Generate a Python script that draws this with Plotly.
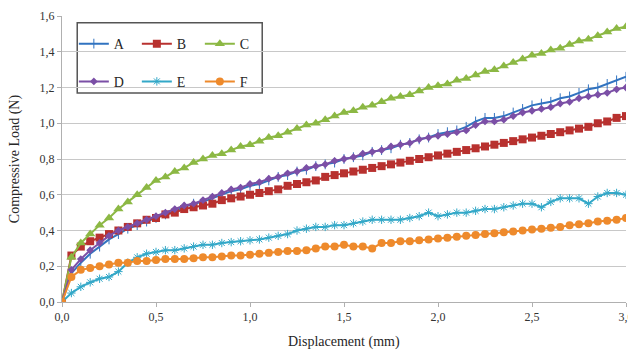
import plotly.graph_objects as go

x_mm = [round(i * 0.05, 2) for i in range(61)]

load_A = [0, 0.16, 0.22, 0.27, 0.31, 0.35, 0.38, 0.41, 0.43, 0.45, 0.47, 0.49, 0.51, 0.53, 0.55, 0.56,
          0.58, 0.60, 0.62, 0.63, 0.65, 0.66, 0.68, 0.70, 0.71, 0.73, 0.74, 0.76, 0.77, 0.78, 0.80,
          0.81, 0.82, 0.84, 0.85, 0.86, 0.88, 0.89, 0.91, 0.92, 0.94, 0.95, 0.96, 0.98, 1.01, 1.03,
          1.03, 1.04, 1.06, 1.08, 1.10, 1.11, 1.12, 1.14, 1.15, 1.17, 1.19, 1.20, 1.22, 1.24, 1.26]
load_B = [0, 0.26, 0.31, 0.34, 0.36, 0.38, 0.40, 0.42, 0.44, 0.46, 0.47, 0.49, 0.50, 0.52, 0.53, 0.54,
          0.55, 0.57, 0.58, 0.59, 0.60, 0.61, 0.62, 0.63, 0.65, 0.66, 0.67, 0.68, 0.70, 0.71, 0.72,
          0.73, 0.74, 0.75, 0.76, 0.77, 0.78, 0.79, 0.80, 0.81, 0.82, 0.83, 0.84, 0.85, 0.86, 0.87,
          0.88, 0.89, 0.90, 0.91, 0.92, 0.93, 0.94, 0.95, 0.96, 0.97, 0.98, 1.00, 1.01, 1.03, 1.04]
load_C = [0, 0.25, 0.33, 0.38, 0.43, 0.47, 0.52, 0.56, 0.60, 0.64, 0.68, 0.70, 0.73, 0.75, 0.78, 0.80,
          0.82, 0.83, 0.85, 0.87, 0.88, 0.90, 0.92, 0.93, 0.95, 0.97, 0.99, 1.00, 1.02, 1.04, 1.06,
          1.07, 1.09, 1.10, 1.12, 1.14, 1.15, 1.16, 1.18, 1.20, 1.21, 1.22, 1.24, 1.25, 1.27, 1.29,
          1.30, 1.32, 1.34, 1.36, 1.38, 1.39, 1.41, 1.42, 1.44, 1.46, 1.47, 1.49, 1.51, 1.53, 1.54]
load_D = [0, 0.18, 0.24, 0.29, 0.33, 0.37, 0.40, 0.42, 0.44, 0.46, 0.48, 0.50, 0.52, 0.54, 0.55, 0.57,
          0.59, 0.61, 0.63, 0.64, 0.66, 0.67, 0.69, 0.70, 0.72, 0.73, 0.75, 0.76, 0.77, 0.79, 0.80,
          0.81, 0.83, 0.84, 0.85, 0.87, 0.88, 0.89, 0.91, 0.92, 0.93, 0.94, 0.95, 0.96, 0.99, 1.01,
          1.01, 1.02, 1.04, 1.06, 1.07, 1.08, 1.09, 1.11, 1.12, 1.14, 1.15, 1.16, 1.17, 1.19, 1.20]
load_E = [0, 0.05, 0.085, 0.11, 0.13, 0.14, 0.17, 0.22, 0.25, 0.27, 0.28, 0.29, 0.29, 0.30, 0.31, 0.32,
          0.32, 0.33, 0.335, 0.34, 0.345, 0.35, 0.36, 0.37, 0.38, 0.40, 0.41, 0.42, 0.42, 0.43, 0.43,
          0.44, 0.45, 0.46, 0.46, 0.46, 0.46, 0.47, 0.48, 0.50, 0.48, 0.49, 0.50, 0.50, 0.51, 0.52,
          0.52, 0.53, 0.54, 0.55, 0.55, 0.53, 0.56, 0.58, 0.58, 0.58, 0.55, 0.59, 0.61, 0.61, 0.60]
load_F = [0, 0.14, 0.18, 0.19, 0.20, 0.21, 0.22, 0.22, 0.23, 0.23, 0.235, 0.24, 0.24, 0.24, 0.245, 0.25,
          0.25, 0.255, 0.26, 0.26, 0.265, 0.27, 0.275, 0.28, 0.285, 0.285, 0.29, 0.30, 0.31, 0.31, 0.32,
          0.31, 0.31, 0.30, 0.33, 0.33, 0.34, 0.34, 0.345, 0.35, 0.355, 0.36, 0.365, 0.37, 0.375, 0.38,
          0.385, 0.39, 0.395, 0.40, 0.405, 0.41, 0.415, 0.42, 0.43, 0.435, 0.44, 0.45, 0.455, 0.46, 0.47]

x_ticks = [0, 0.5, 1.0, 1.5, 2.0, 2.5, 3.0]
y_ticks = [0, 0.2, 0.4, 0.6, 0.8, 1.0, 1.2, 1.4, 1.6]

series = [
    ("A", load_A, "#3173c0", dict(symbol="line-ns", size=7, line=dict(width=1, color="#3173c0")), "legend"),
    ("B", load_B, "#b8312f", dict(symbol="square", size=8), "legend"),
    ("C", load_C, "#8cb844", dict(symbol="triangle-up", size=9), "legend"),
    ("D", load_D, "#7b4fa6", dict(symbol="diamond", size=6), "legend2"),
    ("E", load_E, "#33a8c8", dict(symbol="asterisk", size=7, line=dict(width=1, color="#33a8c8")), "legend2"),
    ("F", load_F, "#ee8a2c", dict(symbol="circle", size=8), "legend2"),
]

fig = go.Figure()
for name, ys, color, mk, lg in series:
    mk = dict(mk)
    mk["color"] = color
    fig.add_trace(go.Scatter(x=x_mm, y=ys, name=name, mode="lines+markers",
                             line=dict(color=color, width=2), marker=mk, legend=lg))

serif = "Liberation Serif"
legend_common = dict(orientation="h", xanchor="left", yanchor="middle",
                     font=dict(family=serif, size=14, color="#262626"),
                     bgcolor="rgba(0,0,0,0)", entrywidth=18, entrywidthmode="pixels",
                     itemwidth=30, tracegroupgap=0)

fig.update_layout(
    width=636, height=356,
    margin=dict(l=54, r=18, t=8, b=62, autoexpand=False),
    paper_bgcolor="white", plot_bgcolor="white",
    separators=",.",
    showlegend=True,
    legend=dict(x=0.021, y=0.902, **legend_common),
    legend2=dict(x=0.021, y=0.77, **legend_common),
    xaxis=dict(range=[0, 3.0], tickvals=x_ticks, tickformat=".1f", automargin=False,
               showgrid=False, showline=True, linecolor="#b0b0b0", linewidth=1,
               ticks="outside", ticklen=4, tickcolor="#b0b0b0",
               tickfont=dict(family=serif, size=12, color="#333333"),
               zeroline=False),
    yaxis=dict(range=[0, 1.6], tickvals=y_ticks, tickformat=".1f", automargin=False,
               showgrid=True, gridcolor="#c8c8c8", gridwidth=1,
               showline=True, linecolor="#b0b0b0", linewidth=1,
               ticks="outside", ticklen=4, tickcolor="#b0b0b0",
               tickfont=dict(family=serif, size=12, color="#333333"),
               zeroline=False),
    annotations=[
        dict(text="Displacement (mm)", xref="paper", yref="paper", x=0.5, y=-0.14,
             xanchor="center", yanchor="middle", showarrow=False,
             font=dict(family=serif, size=14, color="#262626")),
        dict(text="Compressive Load (N)", xref="paper", yref="paper", x=-0.083, y=0.5,
             xanchor="center", yanchor="middle", showarrow=False, textangle=-90,
             font=dict(family=serif, size=14, color="#262626")),
    ],
    shapes=[dict(type="rect", xref="paper", yref="paper", x0=0.027, x1=0.355, y0=0.731, y1=0.976,
                 line=dict(color="#555555", width=1.5), fillcolor="white", layer="below")],
)

fig.write_html("out.html")
